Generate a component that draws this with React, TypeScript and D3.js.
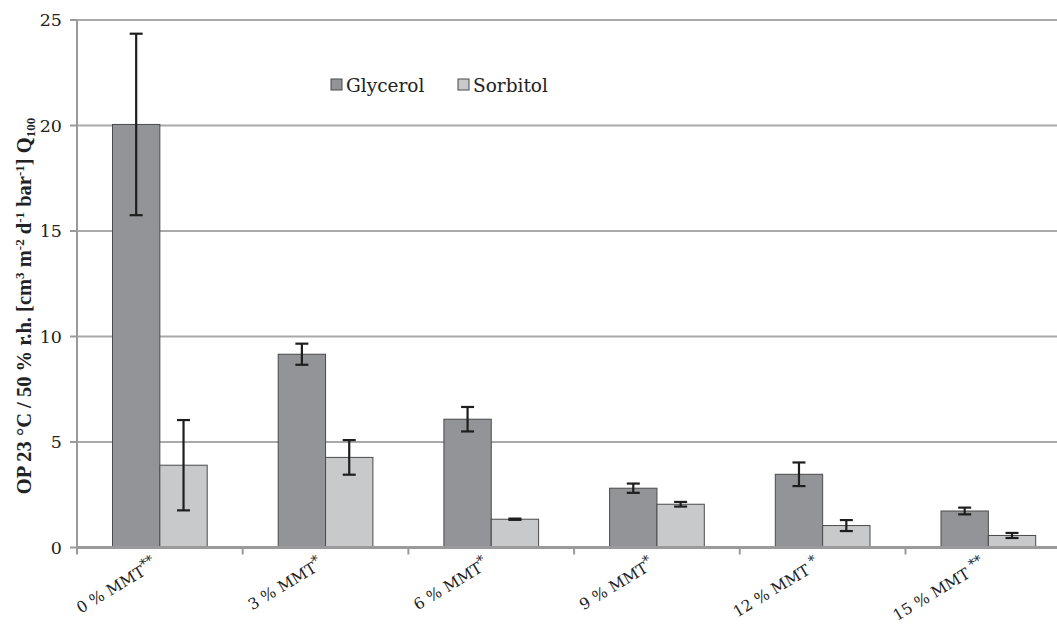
import React from "react";
import * as d3 from "d3";

const categories = ["0 % MMT", "3 % MMT", "6 % MMT", "9 % MMT", "12 % MMT", "15 % MMT"];
const categoryMarks = ["**", "*", "*", "*", " *", " **"];
const seriesNames = ["Glycerol", "Sorbitol"];
const glycerol = [20.05, 9.16, 6.08, 2.81, 3.47, 1.73];
const glycerolErr = [4.3, 0.5, 0.58, 0.22, 0.56, 0.16];
const sorbitol = [3.9, 4.27, 1.34, 2.05, 1.04, 0.57];
const sorbitolErr = [2.14, 0.82, 0.03, 0.11, 0.26, 0.12];
const yTicks = [0, 5, 10, 15, 20, 25];

const W = 1057;
const H = 627;
const left = 77;
const bandW = 165.7;
const y0 = 547.5;
const yTop = 20;
const colors = ["#939497", "#c8c9cb"];
const font = "'DejaVu Serif', 'Liberation Serif', serif";
const boldFont = "'Liberation Serif', 'Times New Roman', serif";

export default function App() {
  const x = d3
    .scaleBand<string>()
    .domain(categories)
    .range([left, left + bandW * categories.length])
    .padding(0);
  const gap = 35.5;
  const xs = d3
    .scaleBand<string>()
    .domain(seriesNames)
    .range([gap, x.bandwidth() - gap])
    .padding(0);
  const y = d3.scaleLinear().domain([0, 25]).range([y0, yTop]);

  const series = [
    { name: seriesNames[0], values: glycerol, err: glycerolErr, color: colors[0] },
    { name: seriesNames[1], values: sorbitol, err: sorbitolErr, color: colors[1] },
  ];

  const txt = { fontFamily: font };

  return (
    <svg
      width={W}
      height={H}
      style={{ position: "absolute", left: 0, top: 0, background: "#fff" }}
    >
      {/* horizontal gridlines */}
      {yTicks.slice(1).map((t) => (
        <line key={t} x1={left} x2={W} y1={y(t)} y2={y(t)} stroke="#a9a9a9" strokeWidth={2} />
      ))}
      {/* y axis */}
      <line x1={left} x2={left} y1={yTop} y2={y0 + 2} stroke="#9a9a9a" strokeWidth={2} />
      {yTicks.map((t) => (
        <g key={t}>
          <line x1={left - 7} x2={left} y1={y(t)} y2={y(t)} stroke="#9a9a9a" strokeWidth={2} />
          <text x={62} y={y(t) + 6} textAnchor="end" fontSize={17.5} fill="#222" style={txt}>
            {t}
          </text>
        </g>
      ))}
      {/* bars */}
      {series.map((s) =>
        categories.map((c, i) => {
          const bx = (x(c) as number) + (xs(s.name) as number);
          const bw = xs.bandwidth();
          return (
            <rect
              key={s.name + c}
              x={bx}
              y={y(s.values[i])}
              width={bw}
              height={y0 - y(s.values[i])}
              fill={s.color}
              stroke="#4a4a4a"
              strokeWidth={1}
            />
          );
        })
      )}
      {/* error bars */}
      {series.map((s) =>
        categories.map((c, i) => {
          const cx = (x(c) as number) + (xs(s.name) as number) + xs.bandwidth() / 2;
          const hi = y(s.values[i] + s.err[i]);
          const lo = y(s.values[i] - s.err[i]);
          return (
            <g key={"e" + s.name + c} stroke="#1e1e1e" strokeWidth={2.2}>
              <line x1={cx} x2={cx} y1={hi} y2={lo} />
              <line x1={cx - 6.5} x2={cx + 6.5} y1={hi} y2={hi} />
              <line x1={cx - 6.5} x2={cx + 6.5} y1={lo} y2={lo} />
            </g>
          );
        })
      )}
      {/* x axis */}
      <line x1={left - 1} x2={W} y1={y0} y2={y0} stroke="#9a9a9a" strokeWidth={3} />
      {categories.map((c) => (
        <line
          key={"t" + c}
          x1={x(c) as number}
          x2={x(c) as number}
          y1={y0}
          y2={y0 + 7}
          stroke="#9a9a9a"
          strokeWidth={2}
        />
      ))}
      {categories.map((c, i) => {
        const cx = (x(c) as number) + x.bandwidth() / 2;
        return (
          <text
            key={"l" + c}
            transform={`translate(${cx - 2},${y0 + 20}) rotate(-31)`}
            textAnchor="end"
            fontSize={15.5}
            fill="#222"
            style={txt}
          >
            {c}
            <tspan dy={-6} fontSize={13.5}>
              {categoryMarks[i]}
            </tspan>
          </text>
        );
      })}
      {/* legend */}
      {series.map((s, i) => {
        const lx = 331 + i * 127;
        return (
          <g key={"lg" + s.name}>
            <rect x={lx} y={79} width={11} height={11} fill={s.color} stroke="#4a4a4a" strokeWidth={1} />
            <text x={lx + 15} y={92} fontSize={18.5} fill="#222" style={txt}>
              {s.name}
            </text>
          </g>
        );
      })}
      {/* y axis title */}
      <text
        transform={`translate(31,306) rotate(-90)`}
        textAnchor="middle"
        fontSize={20.5}
        fontWeight="bold"
        fill="#222"
        style={{ fontFamily: boldFont }}
      >
        OP 23 °C / 50 % r.h. [cm
        <tspan dy={-7} fontSize={13}>3</tspan>
        <tspan dy={7}> m</tspan>
        <tspan dy={-7} fontSize={13}>-2</tspan>
        <tspan dy={7}> d</tspan>
        <tspan dy={-7} fontSize={13}>-1</tspan>
        <tspan dy={7}> bar</tspan>
        <tspan dy={-7} fontSize={13}>-1</tspan>
        <tspan dy={7}>] Q</tspan>
        <tspan dy={4} fontSize={13}>100</tspan>
      </text>
    </svg>
  );
}
